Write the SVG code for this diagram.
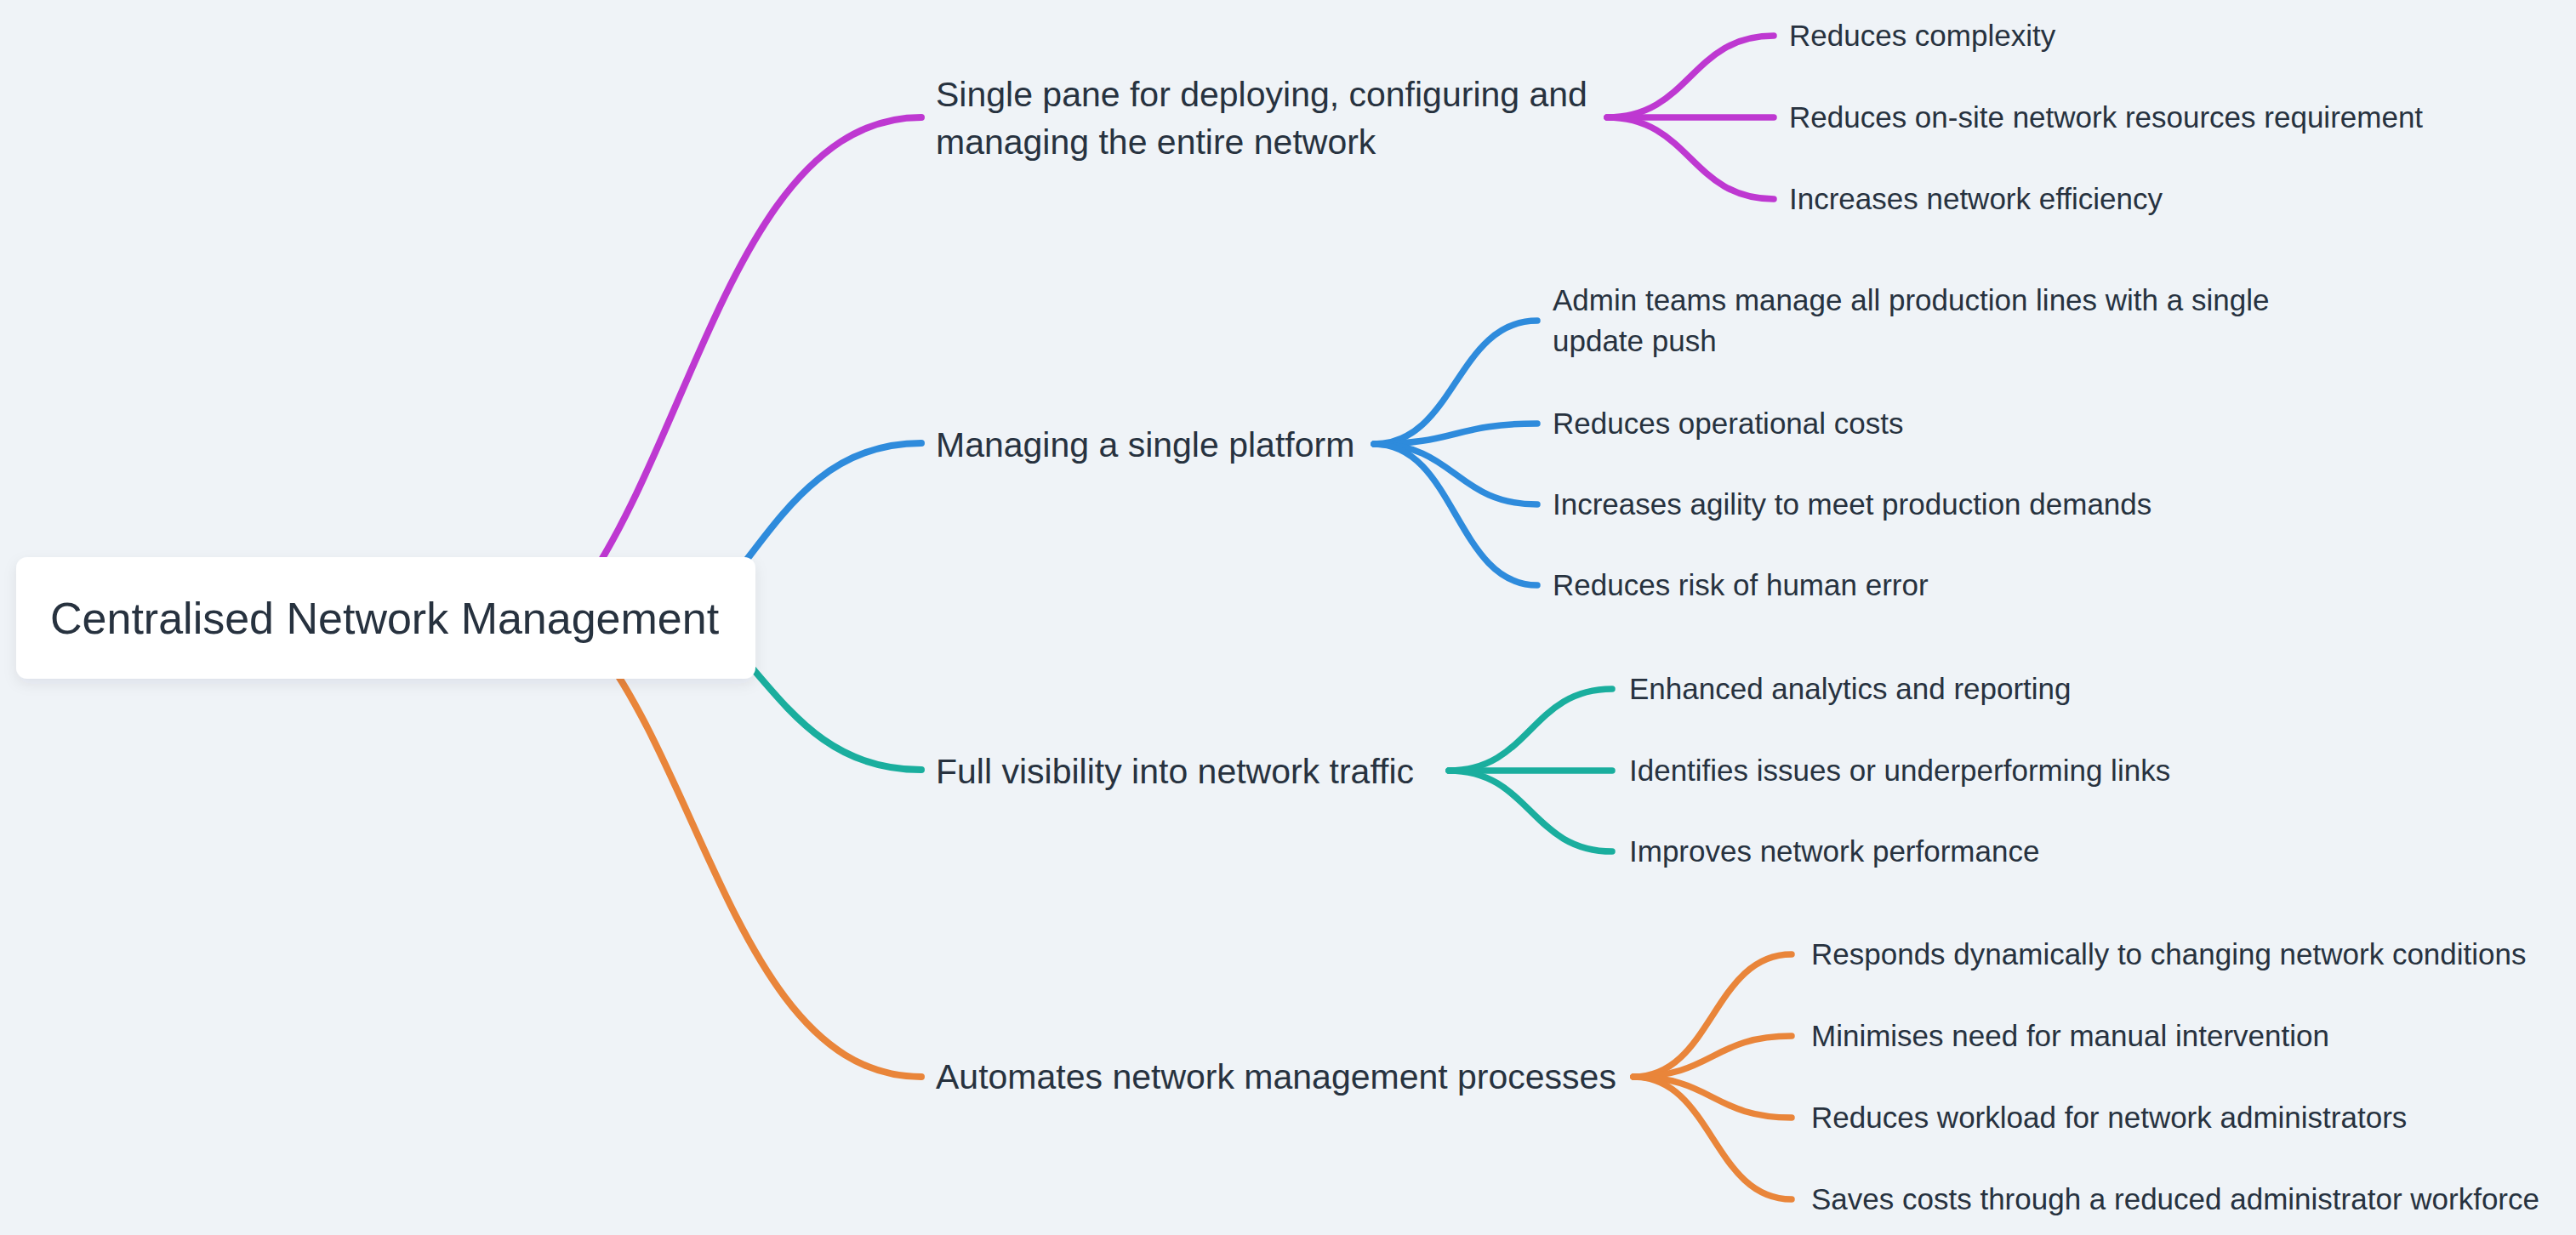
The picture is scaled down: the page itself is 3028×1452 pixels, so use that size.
<svg xmlns="http://www.w3.org/2000/svg" width="3028" height="1452" viewBox="0 0 3028 1452">
<defs>
<style>
.bg{fill:#eff3f7}
.t{font-family:"Liberation Sans",Arial,sans-serif;fill:#27323f}
.main{font-size:41px}
.leaf{font-size:35px}
.root{font-size:52px}
.c{fill:none;stroke-linecap:round}
.l1{stroke-width:8}
.l2{stroke-width:7.5}
.p{stroke:#be38d1}
.b{stroke:#2e8bdc}
.g{stroke:#1aae9e}
.o{stroke:#e9853a}
</style>
<filter id="sh" x="-10%" y="-30%" width="120%" height="160%">
<feDropShadow dx="0" dy="6" stdDeviation="8" flood-color="#1d2a3a" flood-opacity="0.08"/>
</filter>
</defs>
<rect class="bg" x="0" y="0" width="3028" height="1452"/>
<g id="connectors">
<path class="c l1 p" d="M681,698 C815,512 869,138 1083,138"/>
<path class="c l1 b" d="M677,789 C880,789 880,521 1083,521"/>
<path class="c l1 g" d="M695,677 C889,677 889,905 1083,905"/>
<path class="c l1 o" d="M703,760 C830,928 880,1266 1083,1266"/>
<path class="c l2 p" d="M1889,138 C1987,138 1987,42 2085,42"/>
<path class="c l2 p" d="M1889,138 L2085,138"/>
<path class="c l2 p" d="M1889,138 C1987,138 1987,234 2085,234"/>
<path class="c l2 b" d="M1615,522 C1711,522 1711,377 1807,377"/>
<path class="c l2 b" d="M1615,522 C1711,522 1711,498 1807,498"/>
<path class="c l2 b" d="M1615,522 C1711,522 1711,593 1807,593"/>
<path class="c l2 b" d="M1615,522 C1711,522 1711,688 1807,688"/>
<path class="c l2 g" d="M1703,906 C1799,906 1799,810 1895,810"/>
<path class="c l2 g" d="M1703,906 L1895,906"/>
<path class="c l2 g" d="M1703,906 C1799,906 1799,1001 1895,1001"/>
<path class="c l2 o" d="M1920,1266 C2013,1266 2013,1122 2106,1122"/>
<path class="c l2 o" d="M1920,1266 C2013,1266 2013,1218 2106,1218"/>
<path class="c l2 o" d="M1920,1266 C2013,1266 2013,1314 2106,1314"/>
<path class="c l2 o" d="M1920,1266 C2013,1266 2013,1410 2106,1410"/>
</g>
<g id="root">
<rect x="19" y="655" width="869" height="143" rx="13" fill="#ffffff" filter="url(#sh)"/>
<text class="t root" x="59" y="745">Centralised Network Management</text>
</g>
<g id="n1">
<text class="t main" x="1100" y="125">Single pane for deploying, configuring and</text>
<text class="t main" x="1100" y="181">managing the entire network</text>
</g>
<g id="n1a"><text class="t leaf" x="2103" y="54">Reduces complexity</text></g>
<g id="n1b"><text class="t leaf" x="2103" y="150">Reduces on-site network resources requirement</text></g>
<g id="n1c"><text class="t leaf" x="2103" y="246">Increases network efficiency</text></g>
<g id="n2"><text class="t main" x="1100" y="537">Managing a single platform</text></g>
<g id="n2a">
<text class="t leaf" x="1825" y="365">Admin teams manage all production lines with a single</text>
<text class="t leaf" x="1825" y="413">update push</text>
</g>
<g id="n2b"><text class="t leaf" x="1825" y="510">Reduces operational costs</text></g>
<g id="n2c"><text class="t leaf" x="1825" y="605">Increases agility to meet production demands</text></g>
<g id="n2d"><text class="t leaf" x="1825" y="700">Reduces risk of human error</text></g>
<g id="n3"><text class="t main" x="1100" y="921">Full visibility into network traffic</text></g>
<g id="n3a"><text class="t leaf" x="1915" y="822">Enhanced analytics and reporting</text></g>
<g id="n3b"><text class="t leaf" x="1915" y="918">Identifies issues or underperforming links</text></g>
<g id="n3c"><text class="t leaf" x="1915" y="1013">Improves network performance</text></g>
<g id="n4"><text class="t main" x="1100" y="1280">Automates network management processes</text></g>
<g id="n4a"><text class="t leaf" x="2129" y="1134">Responds dynamically to changing network conditions</text></g>
<g id="n4b"><text class="t leaf" x="2129" y="1230">Minimises need for manual intervention</text></g>
<g id="n4c"><text class="t leaf" x="2129" y="1326">Reduces workload for network administrators</text></g>
<g id="n4d"><text class="t leaf" x="2129" y="1422">Saves costs through a reduced administrator workforce</text></g>
</svg>
